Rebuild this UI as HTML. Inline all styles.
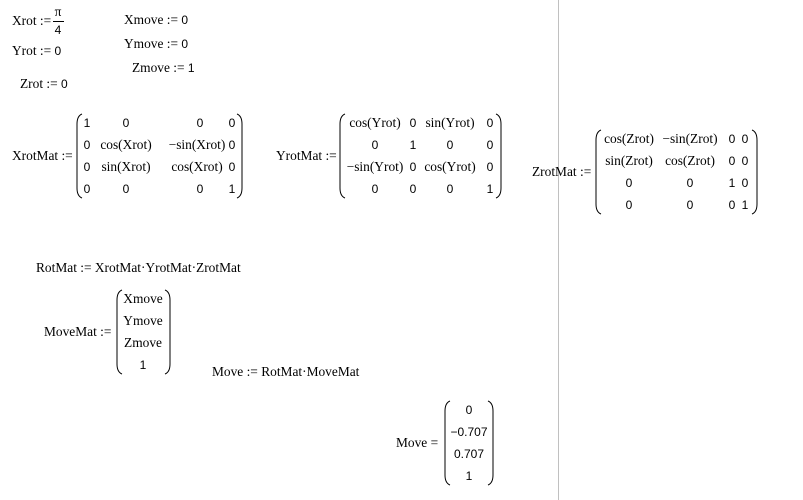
<!DOCTYPE html>
<html><head><meta charset="utf-8"><style>
body{margin:0;width:803px;height:500px;background:#fff;position:relative;overflow:hidden;font-family:"Liberation Serif",serif;font-size:13.4px;color:#000}
.t{position:absolute;white-space:nowrap;line-height:14px;transform:translateY(-50%)}
.c{position:absolute;white-space:nowrap;line-height:14px;transform:translate(-50%,-50%)}
.n{font-family:"Liberation Sans",sans-serif;font-size:12px}
svg{position:absolute;left:0;top:0}
</style></head><body>
<div style="position:absolute;left:558px;top:0;width:1px;height:500px;background:#c0c0c0"></div>
<svg width="803" height="500" fill="none" stroke="#000" stroke-width="1">
<line x1="53" y1="21.5" x2="64" y2="21.5"/>
<path d="M82 114 Q77 116 77 124 L77 188 Q77 196 82 198"/>
<path d="M237 114 Q242 116 242 124 L242 188 Q242 196 237 198"/>
<path d="M345 114 Q340 116 340 124 L340 188 Q340 196 345 198"/>
<path d="M496 114 Q501 116 501 124 L501 188 Q501 196 496 198"/>
<path d="M601 130 Q596 132 596 140 L596 204 Q596 212 601 214"/>
<path d="M752 130 Q757 132 757 140 L757 204 Q757 212 752 214"/>
<path d="M122 290 Q117 292 117 300 L117 364 Q117 372 122 374"/>
<path d="M165 290 Q170 292 170 300 L170 364 Q170 372 165 374"/>
<path d="M450 401 Q445 403 445 411 L445 475 Q445 483 450 485"/>
<path d="M488 401 Q493 403 493 411 L493 475 Q493 483 488 485"/>
</svg>

<div class="t" style="left:12px;top:21px">Xrot :=</div>
<div class="c" style="left:58px;top:12px">π</div>
<div class="c n" style="left:58px;top:30px">4</div>
<div class="t" style="left:124px;top:20px">Xmove := <span class="n">0</span></div>
<div class="t" style="left:12px;top:51px">Yrot := <span class="n">0</span></div>
<div class="t" style="left:124px;top:44px">Ymove := <span class="n">0</span></div>
<div class="t" style="left:132px;top:68px">Zmove := <span class="n">1</span></div>
<div class="t" style="left:20px;top:84px">Zrot := <span class="n">0</span></div>

<div class="t" style="left:12px;top:156px">XrotMat :=</div>
<div class="c n" style="left:87px;top:123px">1</div><div class="c n" style="left:126px;top:123px">0</div><div class="c n" style="left:200px;top:123px">0</div><div class="c n" style="left:232px;top:123px">0</div>
<div class="c n" style="left:87px;top:145px">0</div><div class="c" style="left:126px;top:145px">cos(Xrot)</div><div class="c" style="left:197px;top:145px">−sin(Xrot)</div><div class="c n" style="left:232px;top:145px">0</div>
<div class="c n" style="left:87px;top:167px">0</div><div class="c" style="left:126px;top:167px">sin(Xrot)</div><div class="c" style="left:197px;top:167px">cos(Xrot)</div><div class="c n" style="left:232px;top:167px">0</div>
<div class="c n" style="left:87px;top:189px">0</div><div class="c n" style="left:126px;top:189px">0</div><div class="c n" style="left:200px;top:189px">0</div><div class="c n" style="left:232px;top:189px">1</div>

<div class="t" style="left:276px;top:156px">YrotMat :=</div>
<div class="c" style="left:375px;top:123px">cos(Yrot)</div><div class="c n" style="left:413px;top:123px">0</div><div class="c" style="left:450px;top:123px">sin(Yrot)</div><div class="c n" style="left:490px;top:123px">0</div>
<div class="c n" style="left:375px;top:145px">0</div><div class="c n" style="left:413px;top:145px">1</div><div class="c n" style="left:450px;top:145px">0</div><div class="c n" style="left:490px;top:145px">0</div>
<div class="c" style="left:375px;top:167px">−sin(Yrot)</div><div class="c n" style="left:413px;top:167px">0</div><div class="c" style="left:450px;top:167px">cos(Yrot)</div><div class="c n" style="left:490px;top:167px">0</div>
<div class="c n" style="left:375px;top:189px">0</div><div class="c n" style="left:413px;top:189px">0</div><div class="c n" style="left:450px;top:189px">0</div><div class="c n" style="left:490px;top:189px">1</div>

<div class="t" style="left:532px;top:172px">ZrotMat :=</div>
<div class="c" style="left:629px;top:139px">cos(Zrot)</div><div class="c" style="left:690px;top:139px">−sin(Zrot)</div><div class="c n" style="left:732px;top:139px">0</div><div class="c n" style="left:745px;top:139px">0</div>
<div class="c" style="left:629px;top:161px">sin(Zrot)</div><div class="c" style="left:690px;top:161px">cos(Zrot)</div><div class="c n" style="left:732px;top:161px">0</div><div class="c n" style="left:745px;top:161px">0</div>
<div class="c n" style="left:629px;top:183px">0</div><div class="c n" style="left:690px;top:183px">0</div><div class="c n" style="left:732px;top:183px">1</div><div class="c n" style="left:745px;top:183px">0</div>
<div class="c n" style="left:629px;top:205px">0</div><div class="c n" style="left:690px;top:205px">0</div><div class="c n" style="left:732px;top:205px">0</div><div class="c n" style="left:745px;top:205px">1</div>

<div class="t" style="left:36px;top:268px">RotMat := XrotMat·YrotMat·ZrotMat</div>
<div class="t" style="left:44px;top:332px">MoveMat :=</div>
<div class="c" style="left:143px;top:299px">Xmove</div>
<div class="c" style="left:143px;top:321px">Ymove</div>
<div class="c" style="left:143px;top:343px">Zmove</div>
<div class="c n" style="left:143px;top:365px">1</div>
<div class="t" style="left:212px;top:372px">Move := RotMat·MoveMat</div>

<div class="t" style="left:396px;top:443px">Move =</div>
<div class="c n" style="left:469px;top:410px">0</div>
<div class="c n" style="left:469px;top:432px">−0.707</div>
<div class="c n" style="left:469px;top:454px">0.707</div>
<div class="c n" style="left:469px;top:476px">1</div>
</body></html>
